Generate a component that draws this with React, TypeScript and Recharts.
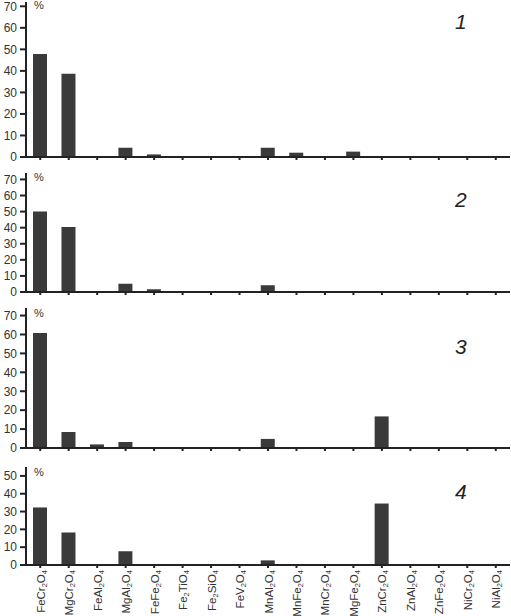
import React from 'react';
import { BarChart, Bar, XAxis, YAxis } from 'recharts';

const categories = [
  'FeCr2O4', 'MgCr2O4', 'FeAl2O4', 'MgAl2O4', 'FeFe2O4', 'Fe2TiO4', 'Fe2SiO4', 'FeV2O4',
  'MnAl2O4', 'MnFe2O4', 'MnCr2O4', 'MgFe2O4', 'ZnCr2O4', 'ZnAl2O4', 'ZnFe2O4', 'NiCr2O4', 'NiAl2O4',
];

const series1 = [47.8, 38.7, 0, 4.3, 1.2, 0, 0, 0, 4.3, 2.0, 0, 2.5, 0, 0, 0, 0, 0];
const series2 = [50.0, 40.4, 0, 5.2, 1.7, 0, 0, 0, 4.2, 0, 0, 0, 0, 0, 0, 0, 0];
const series3 = [60.8, 8.5, 1.9, 3.2, 0, 0, 0, 0, 4.8, 0, 0, 0, 16.7, 0, 0, 0, 0];
const series4 = [32.3, 18.3, 0, 7.7, 0, 0, 0, 0, 2.6, 0, 0, 0, 34.5, 0, 0, 0, 0];

const ticks70 = [0, 10, 20, 30, 40, 50, 60, 70];
const ticks50 = [0, 10, 20, 30, 40, 50];
const panelLabels = ['1', '2', '3', '4'];

const FONT = '"Liberation Sans", Arial, sans-serif';
const AXIS = '#222';
const BAR = '#3a3a3a';

function Formula({ x, y, payload }: any) {
  const name: string = payload.value;
  const parts = name.match(/[A-Za-z]+|\d+/g) || [];
  return (
    <g transform={`translate(${x},${y})`}>
      <text
        transform="rotate(-90)"
        textAnchor="end"
        x={-1}
        y={4.5}
        fontSize={11.5}
        fill="#333"
        fontFamily={FONT}
      >
        {parts.map((p, i) =>
          /\d/.test(p) ? (
            <tspan key={i} fontSize={7.5} dy={2}>{p}</tspan>
          ) : (
            <tspan key={i} dy={i > 0 && /\d/.test(parts[i - 1]) ? -2 : 0}>{p}</tspan>
          )
        )}
      </text>
    </g>
  );
}

const NoLabel = () => <g />;

type PanelProps = {
  values: number[];
  top: number;
  plotHeight: number;
  domainMax: number;
  ticks: number[];
  showLabels: boolean;
  label: string;
  labelTop: number;
  pctTop: number;
};

function Panel({ values, top, plotHeight, domainMax, ticks, showLabels, label, labelTop, pctTop }: PanelProps) {
  const data = categories.map((c, i) => ({ name: c, v: values[i] }));
  const xh = showLabels ? 51 : 13;
  const h = 5 + plotHeight + xh;
  return (
    <div style={{ position: 'absolute', left: 0, top, width: 511, height: h }}>
      <BarChart
        width={511}
        height={h}
        data={data}
        margin={{ top: 5, right: 1, bottom: 0, left: 0 }}
        barCategoryGap={0}
      >
        <YAxis
          width={26}
          domain={[0, domainMax]}
          ticks={ticks}
          allowDataOverflow
          axisLine={{ stroke: AXIS, strokeWidth: 2 }}
          tickLine={{ stroke: AXIS, strokeWidth: 2 }}
          tickSize={6}
          tickMargin={3}
          tick={{ fontSize: 12, fill: '#333', fontFamily: FONT }}
          interval={0}
        />
        <XAxis
          dataKey="name"
          interval={0}
          height={xh}
          axisLine={{ stroke: AXIS, strokeWidth: 2 }}
          tickLine={{ stroke: AXIS, strokeWidth: 2 }}
          tickSize={3}
          tickMargin={1}
          tick={showLabels ? <Formula /> : <NoLabel />}
        />
        <Bar dataKey="v" fill={BAR} barSize={14} isAnimationActive={false} />
      </BarChart>
      <div
        style={{
          position: 'absolute',
          left: 34,
          top: pctTop,
          fontSize: 11,
          color: '#333',
          fontFamily: FONT,
          lineHeight: '12px',
        }}
      >
        %
      </div>
      <div
        style={{
          position: 'absolute',
          left: 455,
          top: labelTop,
          fontSize: 21,
          fontStyle: 'italic',
          color: '#222',
          fontFamily: FONT,
          lineHeight: '22px',
        }}
      >
        {label}
      </div>
    </div>
  );
}

export default function App() {
  return (
    <div style={{ position: 'absolute', left: 0, top: 0, width: 511, height: 616, background: '#fff', overflow: 'hidden' }}>
      <Panel values={series1} top={-3} plotHeight={155} domainMax={72} ticks={ticks70} showLabels={false} label={panelLabels[0]} labelTop={14} pctTop={2} />
      <Panel values={series2} top={168} plotHeight={119} domainMax={74} ticks={ticks70} showLabels={false} label={panelLabels[1]} labelTop={21} pctTop={3} />
      <Panel values={series3} top={303} plotHeight={140} domainMax={74} ticks={ticks70} showLabels={false} label={panelLabels[2]} labelTop={33} pctTop={4} />
      <Panel values={series4} top={462} plotHeight={98} domainMax={55} ticks={ticks50} showLabels={true} label={panelLabels[3]} labelTop={19} pctTop={4} />
    </div>
  );
}
